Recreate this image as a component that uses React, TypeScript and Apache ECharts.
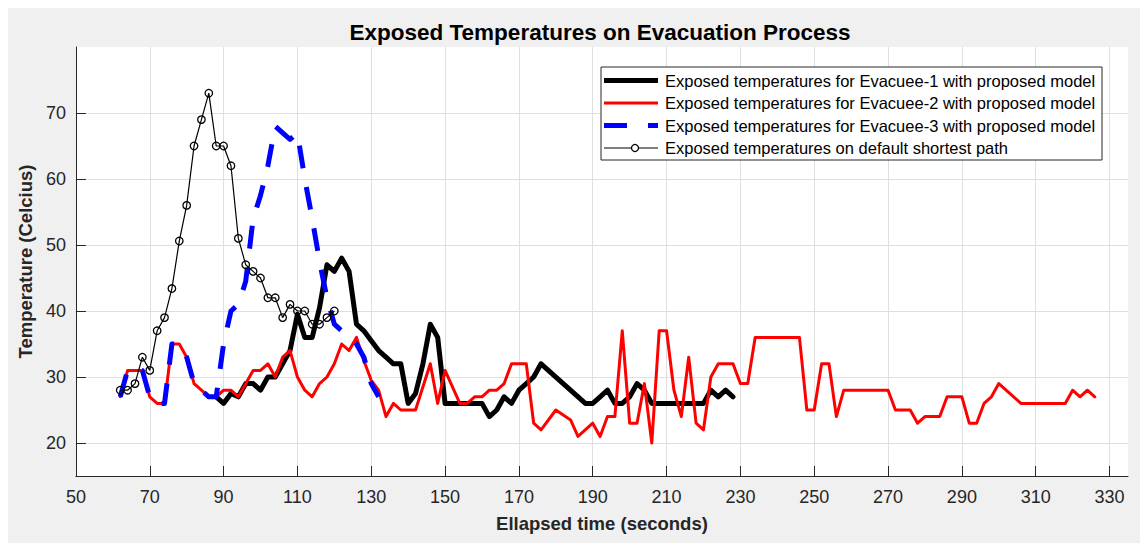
import React, { useEffect, useRef } from 'react';
import * as echarts from 'echarts';

// ---- tick labels ----
const xTicks = [50, 70, 90, 110, 130, 150, 170, 190, 210, 230, 250, 270, 290, 310, 330];
const yTicks = [20, 30, 40, 50, 60, 70];

// ---- series names ----
const seriesNames = [
  'Exposed temperatures for Evacuee-1 with proposed model',
  'Exposed temperatures for Evacuee-2 with proposed model',
  'Exposed temperatures for Evacuee-3 with proposed model',
  'Exposed temperatures on default shortest path',
];

// ---- Evacuee-1 (black, thick) ----
const evac1Time = [88, 90, 92, 94, 96, 98, 100, 102, 104, 106, 108, 110, 112, 114, 116, 118, 120, 122, 124, 126,
  128, 130, 132, 134, 136, 138, 140, 142, 144, 146, 148, 150, 160, 162, 164, 166, 168, 170, 172, 174, 176, 188,
  190, 192, 194, 196, 198, 200, 202, 204, 206, 220, 222, 224, 226, 228];
const evac1Temp = [27, 26, 27.5, 27, 29, 29, 28, 30, 30, 32, 34, 39.5, 36, 36, 40.5, 47, 46, 48, 46, 38,
  37, 35.5, 34, 33, 32, 32, 26, 27.5, 32, 38, 36, 26, 26, 24, 25, 27, 26, 28, 29, 30, 32, 26,
  26, 27, 28, 26, 26, 27, 29, 28, 26, 26, 28, 27, 28, 27];

// ---- Evacuee-2 (red) ----
const evac2Time = [62, 64, 66, 68, 70, 72, 74, 76, 78, 80, 82, 84, 86, 88, 90, 92, 94, 98, 100, 102, 104, 106, 108,
  110, 112, 114, 116, 118, 120, 122, 124, 126, 128, 130, 132, 134, 136, 138, 142, 146, 148, 150, 154, 156, 158,
  160, 162, 164, 166, 168, 172, 174, 176, 180, 184, 186, 190, 192, 194, 196, 198, 200, 202, 204, 206, 208, 210,
  212, 214, 216, 218, 220, 222, 224, 228, 230, 232, 234, 246, 248, 250, 252, 254, 256, 258, 270, 272, 276, 278,
  280, 284, 286, 290, 292, 294, 296, 298, 300, 306, 318, 320, 322, 324, 326];
const evac2Temp = [27, 31, 31, 31, 27, 26, 26, 35, 35, 33, 29, 28, 27, 27, 28, 28, 27, 31, 31, 32, 30, 33, 34,
  30, 28, 27, 29, 30, 32, 35, 34, 36, 32.5, 29.5, 28, 24, 26, 25, 25, 32, 26, 31, 26, 26, 27,
  27, 28, 28, 29, 32, 32, 23, 22, 25, 23.5, 21, 23, 21, 24, 24, 37, 23, 23, 29, 20, 37, 37,
  28, 24, 33, 23, 22, 30, 32, 32, 29, 29, 36, 36, 25, 25, 32, 32, 24, 28, 28, 25, 25, 23,
  24, 24, 27, 27, 23, 23, 26, 27, 29, 26, 26, 28, 27, 28, 27];

// ---- Evacuee-3 (blue, dashed) ----
const evac3Time = [62, 64, 66, 68, 70, 72, 74, 76, 78, 80, 82, 84, 86, 88, 90, 92, 94, 96, 98, 100, 102, 104,
  106, 108, 110, 112, 114, 116, 118, 120, 122, 124, 126, 128, 130, 132];
const evac3Temp = [27, 31, 31, 31, 27, 26, 26, 35, 35, 33, 29, 28, 27, 27, 35, 40, 41, 44.5, 54, 57.5, 62, 68,
  67, 66, 67, 60, 54, 47.5, 42, 38, 37, 36, 35, 33, 29, 27];

// ---- default shortest path (thin black with circles) ----
const defaultTime = [62, 64, 66, 68, 70, 72, 74, 76, 78, 80, 82, 84, 86, 88, 90, 92, 94, 96, 98, 100, 102, 104,
  106, 108, 110, 112, 114, 116, 118, 120];
const defaultTemp = [28, 28, 29, 33, 31, 37, 39, 43.4, 50.6, 56, 65, 69, 73, 65, 65, 62, 51, 47, 46, 45, 42, 42,
  39, 41, 40, 40, 38, 38, 39, 40];

const FONT = '"Liberation Sans", Arial, Helvetica, sans-serif';
const AXIS_COLOR = '#262626';

function zip(t: number[], v: number[]) {
  return t.map((x, i) => [x, v[i]]);
}

export default function App() {
  const ref = useRef<HTMLDivElement>(null);

  useEffect(() => {
    if (!ref.current) return;
    const chart = echarts.init(ref.current, null, { renderer: 'svg' });

    // legend geometry (div coordinates)
    const lgX = 593, lgY = 59, lgW = 501, lgH = 93;
    const rowY = [72.5, 95, 117.5, 140];
    const lx1 = 596, lx2 = 650, tx = 657;
    const legendText = (i: number) => ({
      type: 'text',
      x: tx,
      y: rowY[i],
      z: 102,
      style: {
        text: seriesNames[i],
        fill: '#000',
        fontSize: 16.5,
        fontFamily: FONT,
        align: 'left',
        verticalAlign: 'middle',
      },
    });

    const option: any = {
      animation: false,
      backgroundColor: '#f0f0f0',
      title: {
        text: 'Exposed Temperatures on Evacuation Process',
        left: 592,
        top: 13,
        padding: 0,
        textAlign: 'center',
        textStyle: { fontSize: 22.5, fontWeight: 'bold', color: '#000', fontFamily: FONT },
      },
      grid: {
        left: 66,
        top: 39,
        right: 20,
        bottom: 67,
        show: true,
        backgroundColor: '#ffffff',
        borderWidth: 0,
      },
      xAxis: {
        type: 'value',
        min: 50,
        max: 335,
        z: 0,
        name: 'Ellapsed time (seconds)',
        nameLocation: 'middle',
        nameGap: 38,
        nameTextStyle: { fontSize: 18.5, fontWeight: 'bold', color: AXIS_COLOR, fontFamily: FONT },
        axisLine: { show: true, onZero: false, lineStyle: { color: AXIS_COLOR, width: 1 } },
        axisTick: { show: true, inside: true, length: 10, customValues: xTicks, lineStyle: { color: AXIS_COLOR, width: 1 } },
        axisLabel: { customValues: xTicks, margin: 12, fontSize: 18, color: AXIS_COLOR, fontFamily: FONT },
        splitLine: { show: true, lineStyle: { color: '#dfdfdf', width: 1 } },
      },
      yAxis: {
        type: 'value',
        min: 15,
        max: 80,
        z: 1,
        name: 'Temperature (Celcius)',
        nameLocation: 'middle',
        nameGap: 36,
        nameTextStyle: { fontSize: 18.5, fontWeight: 'bold', color: AXIS_COLOR, fontFamily: FONT },
        axisLine: { show: true, onZero: false, lineStyle: { color: AXIS_COLOR, width: 1 } },
        axisTick: { show: true, inside: true, length: 10, customValues: yTicks, lineStyle: { color: AXIS_COLOR, width: 1 } },
        axisLabel: { customValues: yTicks, margin: 10, fontSize: 18, color: AXIS_COLOR, fontFamily: FONT },
        splitLine: { show: true, lineStyle: { color: '#dfdfdf', width: 1 } },
      },
      series: [
        {
          name: seriesNames[0],
          type: 'line',
          data: zip(evac1Time, evac1Temp),
          symbol: 'none',
          showSymbol: false,
          z: 2,
          lineStyle: { color: '#000000', width: 5, join: 'round', cap: 'round' },
          itemStyle: { color: '#000000' },
        },
        {
          name: seriesNames[1],
          type: 'line',
          data: zip(evac2Time, evac2Temp),
          symbol: 'none',
          showSymbol: false,
          z: 3,
          lineStyle: { color: '#ff0000', width: 3, join: 'round', cap: 'round' },
          itemStyle: { color: '#ff0000' },
        },
        {
          name: seriesNames[2],
          type: 'line',
          data: zip(evac3Time, evac3Temp),
          symbol: 'none',
          showSymbol: false,
          z: 4,
          lineStyle: { color: '#0000ff', width: 5, type: [23, 19], join: 'round', cap: 'butt' },
          itemStyle: { color: '#0000ff' },
        },
        {
          name: seriesNames[3],
          type: 'line',
          data: zip(defaultTime, defaultTemp),
          symbol: 'circle',
          symbolSize: 7.5,
          showSymbol: true,
          z: 5,
          lineStyle: { color: '#000000', width: 1.2 },
          itemStyle: { color: 'rgba(0,0,0,0)', borderColor: '#000000', borderWidth: 1.3 },
        },
      ],
      graphic: [
        {
          type: 'rect',
          z: 100,
          shape: { x: lgX, y: lgY, width: lgW, height: lgH },
          style: { fill: '#ffffff', stroke: AXIS_COLOR, lineWidth: 1 },
        },
        {
          type: 'line', z: 101,
          shape: { x1: lx1, y1: rowY[0], x2: lx2, y2: rowY[0] },
          style: { stroke: '#000000', lineWidth: 5 },
        },
        {
          type: 'line', z: 101,
          shape: { x1: lx1, y1: rowY[1], x2: lx2, y2: rowY[1] },
          style: { stroke: '#ff0000', lineWidth: 3 },
        },
        {
          type: 'line', z: 101,
          shape: { x1: lx1, y1: rowY[2], x2: lx2, y2: rowY[2] },
          style: { stroke: '#0000ff', lineWidth: 5, lineDash: [23, 21] },
        },
        {
          type: 'line', z: 101,
          shape: { x1: lx1, y1: rowY[3], x2: lx2, y2: rowY[3] },
          style: { stroke: '#000000', lineWidth: 1.2 },
        },
        {
          type: 'circle', z: 102,
          shape: { cx: 627, cy: rowY[3], r: 3.5 },
          style: { fill: '#ffffff', stroke: '#000000', lineWidth: 1.3 },
        },
        legendText(0),
        legendText(1),
        legendText(2),
        legendText(3),
      ],
    };

    chart.setOption(option);
    return () => chart.dispose();
  }, []);

  return <div ref={ref} style={{ width: 1140, height: 535, background: '#f0f0f0' }} />;
}
